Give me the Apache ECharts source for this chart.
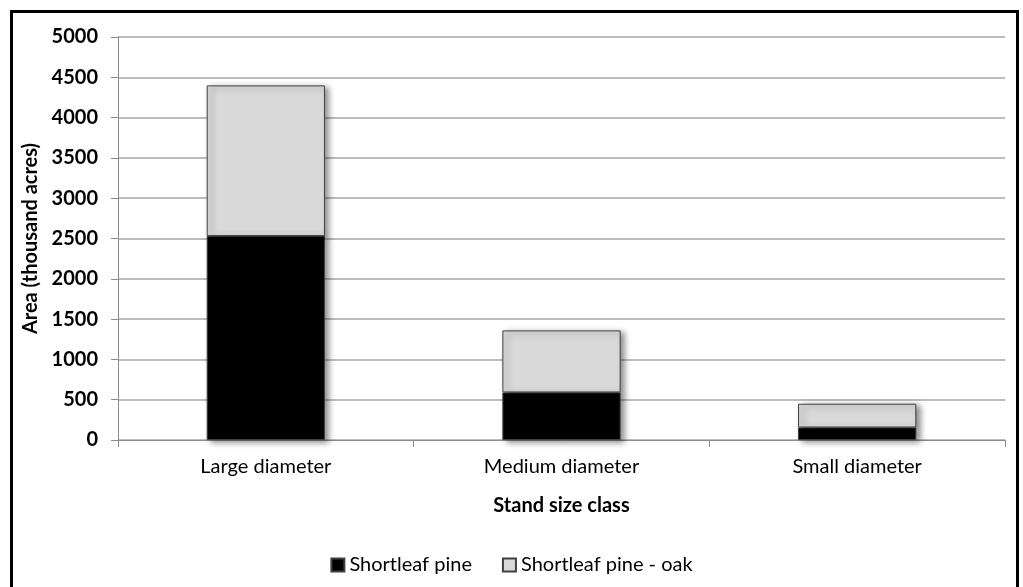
<!DOCTYPE html>
<html><head><meta charset="utf-8">
<script src="https://cdn.jsdelivr.net/npm/echarts@6/dist/echarts.min.js"></script>
<style>html,body{margin:0;padding:0;background:#fff;}#c{width:1023px;height:587px;}</style>
</head><body><div id="c"></div>
<script>
const categories = ['Large diameter', 'Medium diameter', 'Small diameter'];
const shortleafPine = [2530, 590, 155];
const shortleafPineOak = [1870, 770, 295];
const yTicks = [0, 500, 1000, 1500, 2000, 2500, 3000, 3500, 4000, 4500, 5000];

const FONT = 'Lato';
const FS = 20;
const chart = echarts.init(document.getElementById('c'));
const barStyle = (color) => ({
  color: color, borderColor: '#404040', borderWidth: 1,
  shadowColor: 'rgba(0,0,0,0.45)', shadowBlur: 6, shadowOffsetX: 4, shadowOffsetY: 2
});
chart.setOption({
  backgroundColor: '#fff',
  animation: false,
  textStyle: { fontFamily: FONT },
  graphic: [{ type: 'rect', shape: { x: 11.5, y: 11.5, width: 1006, height: 620 },
    style: { fill: 'none', stroke: '#000', lineWidth: 3 }, z: 100 }],
  grid: { left: 118, right: 18, top: 37, bottom: 147 },
  legend: {
    bottom: 7, left: 'center', itemWidth: 13, itemHeight: 13, itemGap: 30,
    icon: 'rect',
    textStyle: { fontFamily: FONT, fontSize: FS, color: '#000' },
    data: ['Shortleaf pine', 'Shortleaf pine - oak']
  },
  xAxis: {
    type: 'category', data: categories,
    name: 'Stand size class', nameLocation: 'middle', nameGap: 56,
    nameTextStyle: { fontFamily: FONT, fontSize: FS, fontWeight: 'bold', color: '#000' },
    axisLine: { lineStyle: { color: '#8c8c8c', width: 1 } },
    axisTick: { show: true, length: 7, lineStyle: { color: '#8c8c8c' } },
    axisLabel: { fontFamily: FONT, fontSize: FS, color: '#000', margin: 17 }
  },
  yAxis: {
    type: 'value', min: 0, max: 5000, interval: 500,
    name: 'Area (thousand acres)', nameLocation: 'middle', nameGap: 77,
    nameTextStyle: { fontFamily: FONT, fontSize: FS, fontWeight: 'bold', color: '#000' },
    axisLine: { show: true, lineStyle: { color: '#8c8c8c', width: 1 } },
    axisTick: { show: true, length: 7, lineStyle: { color: '#8c8c8c' } },
    axisLabel: { fontFamily: FONT, fontSize: FS, fontWeight: 'bold', color: '#000', margin: 20,
      formatter: v => yTicks.includes(v) ? String(v) : '' },
    splitLine: { lineStyle: { color: '#a6a6a6', width: 1.5 } }
  },
  series: [
    { name: 'Shortleaf pine', type: 'bar', stack: 's', data: shortleafPine,
      barCategoryGap: '60%', itemStyle: barStyle('#000000') },
    { name: 'Shortleaf pine - oak', type: 'bar', stack: 's', data: shortleafPineOak,
      barCategoryGap: '60%', itemStyle: barStyle('#d9d9d9') }
  ]
});
</script></body></html>
